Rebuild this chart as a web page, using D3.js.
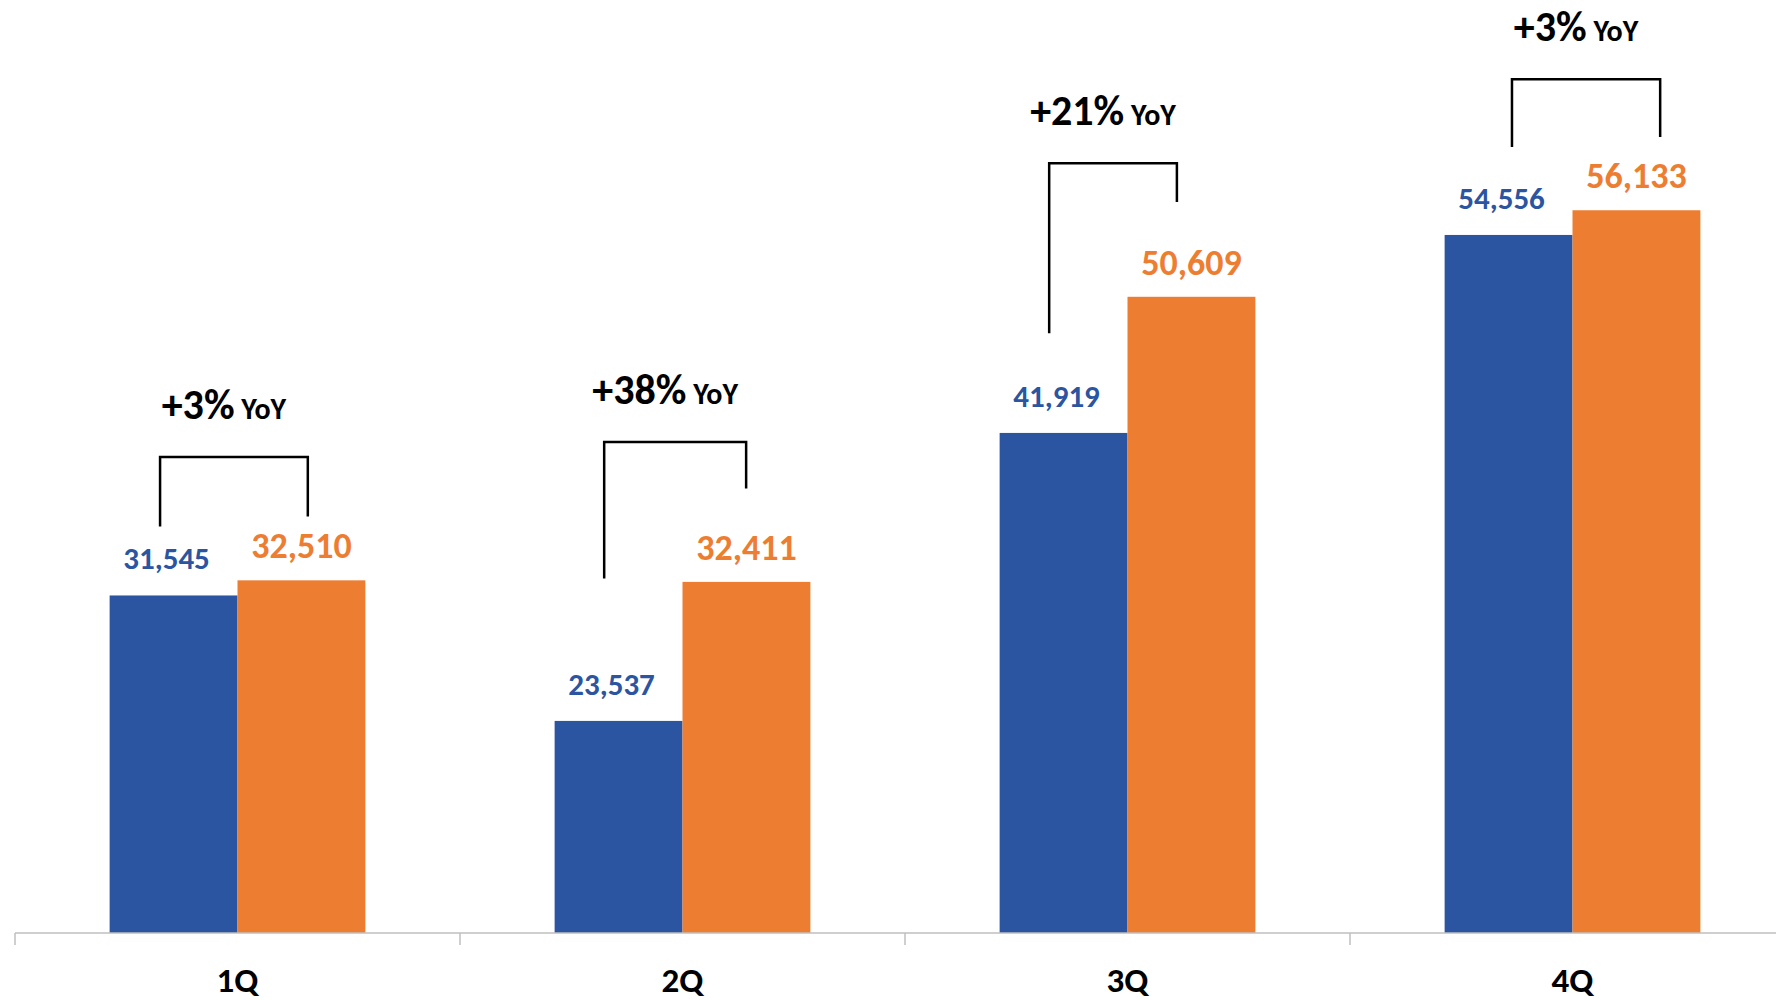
<!DOCTYPE html>
<html>
<head>
<meta charset="utf-8">
<script src="https://cdn.jsdelivr.net/npm/d3@7"></script>
<style>
  html, body { margin: 0; padding: 0; background: #fff; }
  svg { display: block; font-family: Carlito, Calibri, Lato, sans-serif; }
</style>
</head>
<body>
<svg id="chart"></svg>
<script>
// quarters and the two yearly series
const quarters = ['1Q', '2Q', '3Q', '4Q'];
const series = ['prev', 'curr'];
const prevYear = [31545, 23537, 41919, 54556];
const currYear = [32510, 32411, 50609, 56133];
const yoyLabels = ['+3%', '+38%', '+21%', '+3%'];

// bracket levels in value units (top bar, left end, right end)
const bracketTop = [40377, 41335, 59133, 64497];
const bracketLeftEnd = [35951, 32631, 48278, 60174];
const bracketRightEnd = [36590, 38378, 56661, 60812];
// where the bracket legs sit inside each quarter band (fraction of band)
const bracketLeftFrac = [0.326, 0.324, 0.324, 0.364];
const bracketRightFrac = [0.658, 0.643, 0.611, 0.697];

const W = 1776, H = 1000;
const colors = { prev: '#2B55A0', curr: '#ED7D31' };

const svg = d3.select('#chart').attr('width', W).attr('height', H);

const x0 = d3.scaleBand().domain(quarters).range([15, 1795]).paddingInner(0).paddingOuter(0);
const x1 = d3.scaleBand().domain(series).range([0, x0.bandwidth()]).paddingOuter(0.74).paddingInner(0);
const y = d3.scaleLinear().domain([10000, 70000]).range([933, -7]);

const rows = quarters.map((q, i) => ({ q, i, prev: prevYear[i], curr: currYear[i] }));

// bars
const groups = svg.selectAll('g.q')
  .data(rows)
  .enter().append('g')
  .attr('class', 'q')
  .attr('transform', d => `translate(${x0(d.q)},0)`);

groups.selectAll('rect')
  .data(d => series.map(s => ({ s, v: d[s] })))
  .enter().append('rect')
  .attr('x', d => x1(d.s))
  .attr('width', x1.bandwidth())
  .attr('y', d => y(d.v))
  .attr('height', d => y(10000) - y(d.v))
  .attr('fill', d => colors[d.s]);

// value labels
groups.append('text')
  .attr('x', x1('prev') + x1.bandwidth() / 2 - 7)
  .attr('y', d => y(d.prev) - 26)
  .attr('text-anchor', 'middle')
  .attr('font-size', 31)
  .attr('font-weight', 'bold')
  .attr('fill', colors.prev)
  .text(d => d3.format(',')(d.prev));

groups.append('text')
  .attr('x', x1('curr') + x1.bandwidth() / 2)
  .attr('y', d => y(d.curr) - 22)
  .attr('text-anchor', 'middle')
  .attr('font-size', 36)
  .attr('font-weight', 'bold')
  .attr('fill', colors.curr)
  .text(d => d3.format(',')(d.curr));

// YoY brackets
const bw = x0.bandwidth();
groups.append('path')
  .attr('fill', 'none')
  .attr('stroke', '#000')
  .attr('stroke-width', 2.5)
  .attr('d', d => {
    const xl = bracketLeftFrac[d.i] * bw, xr = bracketRightFrac[d.i] * bw;
    return `M${xl},${y(bracketLeftEnd[d.i])}V${y(bracketTop[d.i])}H${xr}V${y(bracketRightEnd[d.i])}`;
  });

const yoy = groups.append('text')
  .attr('x', d => (bracketLeftFrac[d.i] + bracketRightFrac[d.i]) / 2 * bw - 10)
  .attr('y', d => y(bracketTop[d.i]) - 38)
  .attr('text-anchor', 'middle')
  .attr('font-weight', 'bold')
  .attr('fill', '#000');
yoy.append('tspan').attr('font-size', 42).text(d => yoyLabels[d.i]);
yoy.append('tspan').attr('font-size', 30).text(' YoY');

// x axis
const axis = svg.append('g').attr('transform', `translate(0,${y(10000)})`);
axis.append('line')
  .attr('x1', 15).attr('x2', W)
  .attr('stroke', '#bfbfbf').attr('stroke-width', 1.5);
axis.selectAll('line.tick')
  .data(quarters)
  .enter().append('line')
  .attr('class', 'tick')
  .attr('x1', d => x0(d)).attr('x2', d => x0(d))
  .attr('y1', 0).attr('y2', 12)
  .attr('stroke', '#bfbfbf').attr('stroke-width', 1.5);
axis.selectAll('text')
  .data(quarters)
  .enter().append('text')
  .attr('x', d => x0(d) + bw / 2)
  .attr('y', 59)
  .attr('text-anchor', 'middle')
  .attr('font-size', 35)
  .attr('font-weight', 'bold')
  .attr('fill', '#000')
  .text(d => d);
</script>
</body>
</html>
